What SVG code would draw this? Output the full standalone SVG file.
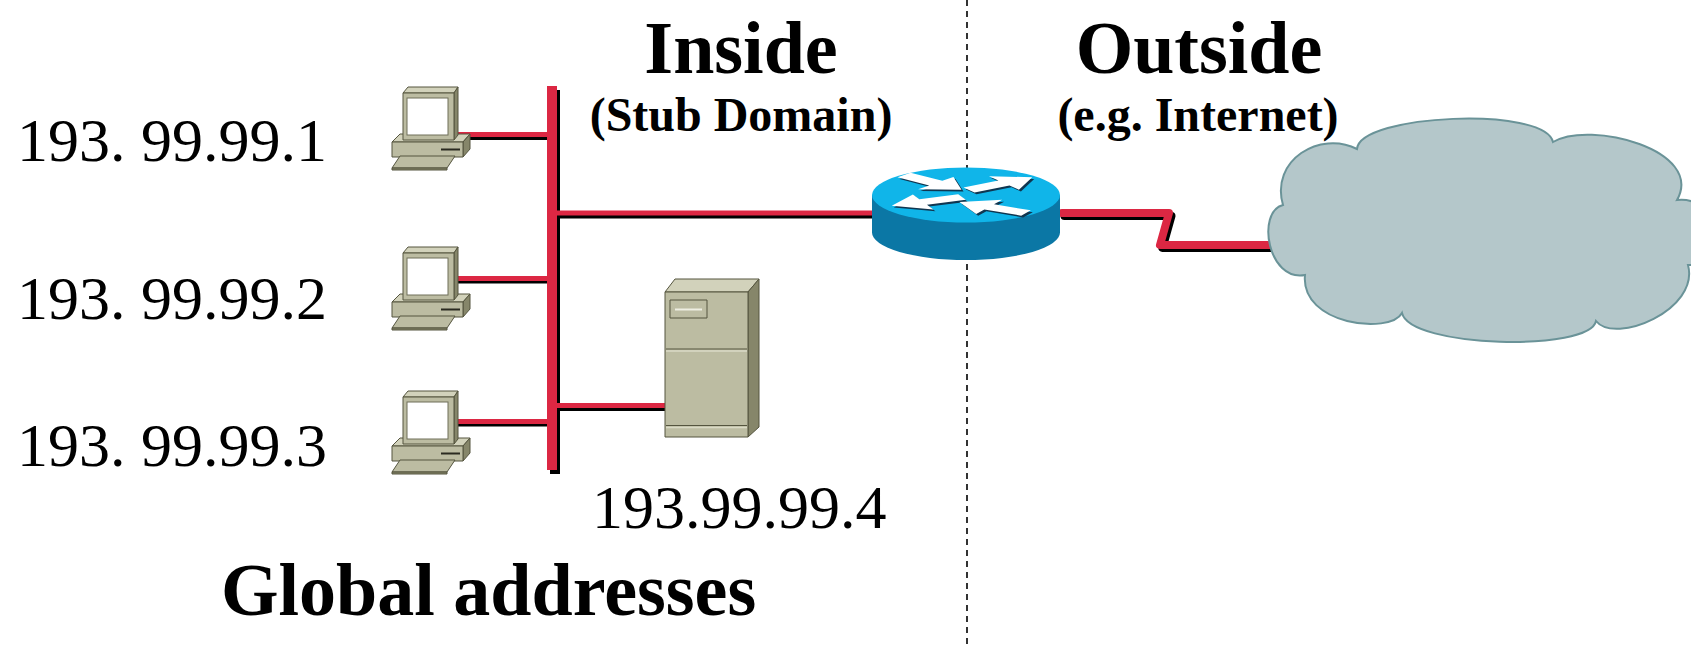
<svg xmlns="http://www.w3.org/2000/svg" xmlns:xlink="http://www.w3.org/1999/xlink" width="1691" height="645" viewBox="0 0 1691 645">
  <style>
    .lbl { font-family: "Liberation Serif", "Times New Roman", serif; fill: #000; }
    .bold { font-weight: bold; }
    .red { fill: #DC2743; }
    .shd { fill: #000; }
    .edge { stroke: #55553F; stroke-width: 1; stroke-linejoin: round; }
    .face { fill: #BCBCA2; }
    .top { fill: #D2D2BB; }
    .side { fill: #86866A; }
  </style>
  <defs>
    <!-- desktop PC icon, drawn at the first workstation position -->
    <g id="pc">
      <!-- system unit -->
      <polygon class="top edge" points="392,142 400,134 470,134 463,142"/>
      <polygon class="side edge" points="463,142 470,134 470,149 463,157"/>
      <rect class="face edge" x="392" y="142" width="71" height="15"/>
      <line x1="441" y1="149.5" x2="460" y2="149.5" stroke="#2A2A20" stroke-width="2"/>
      <!-- monitor -->
      <polygon class="top edge" points="403,93 408,87 458,87 454,93"/>
      <polygon class="side edge" points="454,93 458,87 458,135 454,140"/>
      <rect class="face edge" x="403" y="93" width="51" height="47"/>
      <rect x="407" y="98" width="41" height="37" fill="#FFFFFF" stroke="#6E6E58" stroke-width="1"/>
      <!-- keyboard -->
      <polygon class="face edge" points="400,156 455,156 447,168 392,168"/>
      <polygon class="side edge" points="392,168 447,168 447,170 392,170"/>
    </g>
    <!-- router arrow, pointing along +x from its tail -->
    <path id="rarrow" d="M0,-10 L42,-10 L42,-27 L76,0 L42,27 L42,10 L0,10 Z"/>
  </defs>

  <!-- inside / outside boundary -->
  <g id="boundary">
    <line x1="967" y1="0" x2="967" y2="645" stroke="#000" stroke-width="1.6" stroke-dasharray="6 5"/>
  </g>

  <!-- LAN bus, drops and WAN link -->
  <g id="connectors">
    <!-- drops to workstations -->
    <rect class="shd" x="458" y="135" width="92" height="5"/>
    <rect class="red" x="458" y="132" width="92" height="5"/>
    <rect class="shd" x="458" y="278.5" width="92" height="5"/>
    <rect class="red" x="458" y="276" width="92" height="5"/>
    <rect class="shd" x="458" y="421.5" width="92" height="5"/>
    <rect class="red" x="458" y="419" width="92" height="5"/>
    <!-- bus -->
    <rect class="shd" x="550" y="90" width="10" height="384"/>
    <rect class="red" x="547" y="86" width="10" height="384"/>
    <!-- drop to server -->
    <rect class="shd" x="557" y="406" width="108" height="5"/>
    <rect class="red" x="557" y="403" width="108" height="5"/>
    <!-- link to router -->
    <rect class="shd" x="557" y="213.5" width="316" height="5"/>
    <rect class="red" x="557" y="210.5" width="316" height="5"/>
    <!-- serial link to the internet -->
    <polyline points="1064.5,216 1171.5,216 1162.5,248 1278,248" fill="none" stroke="#000" stroke-width="8" stroke-linejoin="round" stroke-linecap="round"/>
    <polyline points="1062,213 1169,213 1160,245 1276,245" fill="none" stroke="#DC2743" stroke-width="8" stroke-linejoin="round" stroke-linecap="round"/>
  </g>

  <g id="pc1"><use xlink:href="#pc"/></g>
  <g id="pc2"><use xlink:href="#pc" transform="translate(0,160)"/></g>
  <g id="pc3"><use xlink:href="#pc" transform="translate(0,304)"/></g>

  <!-- server tower -->
  <g id="server">
    <polygon class="top edge" points="665,292 675,279 759,279 748,292"/>
    <polygon class="side edge" points="748,292 759,279 759,427 748,437" fill="#7C7C5C"/>
    <rect class="face edge" x="665" y="292" width="83" height="145" stroke-width="1.5"/>
    <line x1="666" y1="349" x2="747" y2="349" stroke="#55553F" stroke-width="1.2"/>
    <line x1="666" y1="351" x2="747" y2="351" stroke="#DADAC6" stroke-width="1.5"/>
    <line x1="666" y1="425.5" x2="747" y2="425.5" stroke="#55553F" stroke-width="1.2"/>
    <line x1="666" y1="427.5" x2="747" y2="427.5" stroke="#DADAC6" stroke-width="1.5"/>
    <rect class="face edge" x="670" y="300" width="37" height="18"/>
    <line x1="675" y1="309.5" x2="702" y2="309.5" stroke="#EEEEE2" stroke-width="2"/>
  </g>

  <!-- router -->
  <g id="router">
    <path d="M872,195 L872,232.5 A94,27.5 0 0 0 1060,232.5 L1060,195 Z" fill="#0B77A5"/>
    <ellipse cx="966" cy="195" rx="94" ry="27.5" fill="#10B5E9"/>
    <g transform="translate(966,195) scale(1,0.3)" fill="#103650">
      <use xlink:href="#rarrow" transform="translate(-60,-61) rotate(40.8)"/>
      <use xlink:href="#rarrow" transform="translate(5,-11) rotate(-33.7)"/>
      <use xlink:href="#rarrow" transform="translate(-2,13) rotate(157.6)"/>
      <use xlink:href="#rarrow" transform="translate(62,66) rotate(208.8)"/>
    </g>
    <g transform="translate(966,195) scale(1,0.3)" fill="#FFFFFF">
      <use xlink:href="#rarrow" transform="translate(-62,-67) rotate(40.8)"/>
      <use xlink:href="#rarrow" transform="translate(3,-17) rotate(-33.7)"/>
      <use xlink:href="#rarrow" transform="translate(-4,7) rotate(157.6)"/>
      <use xlink:href="#rarrow" transform="translate(60,60) rotate(208.8)"/>
    </g>
  </g>

  <!-- internet cloud -->
  <g id="internet">
    <path d="M1305,275
             C1268,282 1256,212 1283,205
             C1270,160 1320,130 1357,149
             C1360,114 1545,106 1553,142
             C1590,120 1705,150 1677,200
             C1720,195 1730,265 1688,265
             C1700,310 1615,345 1596,321
             C1590,352 1410,348 1402,313
             C1390,335 1300,325 1305,275 Z"
          fill="#B4C7CA" stroke="#6A9398" stroke-width="2"/>
  </g>

  <!-- labels -->
  <g id="labels">
    <text class="lbl bold" x="741" y="73" font-size="74" text-anchor="middle">Inside</text>
    <text class="lbl bold" x="741" y="131" font-size="48" text-anchor="middle">(Stub Domain)</text>
    <text class="lbl bold" x="1199" y="73" font-size="74" text-anchor="middle">Outside</text>
    <text class="lbl bold" x="1198" y="131" font-size="48" text-anchor="middle">(e.g. Internet)</text>
    <text class="lbl" x="17" y="161" font-size="62">193. 99.99.1</text>
    <text class="lbl" x="17" y="319" font-size="62">193. 99.99.2</text>
    <text class="lbl" x="17" y="466" font-size="62">193. 99.99.3</text>
    <text class="lbl" x="592" y="528" font-size="62">193.99.99.4</text>
    <text class="lbl bold" x="221" y="615" font-size="74">Global addresses</text>
  </g>
</svg>
